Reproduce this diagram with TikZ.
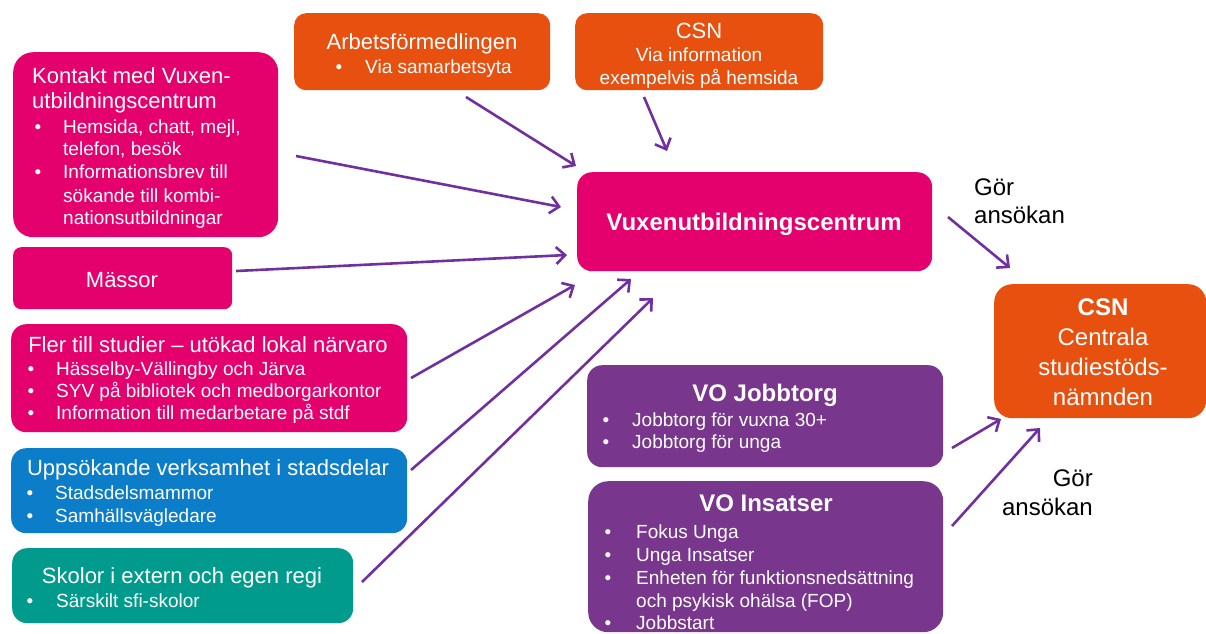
\documentclass[tikz,border=0pt]{standalone}
\usepackage{fontspec}
\setmainfont{Liberation Sans}
\usetikzlibrary{arrows.meta}
\definecolor{mag}{RGB}{228,0,109}
\definecolor{ora}{RGB}{232,80,15}
\definecolor{pur}{RGB}{121,54,141}
\definecolor{blu}{RGB}{12,125,200}
\definecolor{tea}{RGB}{0,155,141}
\definecolor{arr}{RGB}{112,48,160}
\tikzset{
 box/.style={rounded corners=15pt, inner sep=0pt, anchor=north west, draw=none},
 ttl/.style={font=\fontsize{22}{26}\selectfont, text=white, inner sep=0pt, anchor=base},
 itm/.style={font=\fontsize{19}{23}\selectfont, text=white, inner sep=0pt, anchor=base west},
 ctr/.style={font=\fontsize{19}{23}\selectfont, text=white, inner sep=0pt, anchor=base},
 bul/.style={font=\fontsize{19}{23}\selectfont, text=white, inner sep=0pt, anchor=base},
 big/.style={font=\fontsize{24}{28}\selectfont\bfseries, text=white, inner sep=0pt, anchor=base},
 csnt/.style={font=\fontsize{24}{28}\selectfont, text=white, inner sep=0pt, anchor=base},
 lbl/.style={font=\fontsize{24}{28}\selectfont, text=black, inner sep=0pt},
 conn/.style={draw=arr, line width=2.6pt, -{Straight Barb[length=9pt,width=17pt,line width=2.6pt]}},
}
\begin{document}
\begin{tikzpicture}[x=1pt,y=-1pt]
\useasboundingbox (0,0) rectangle (1206,633);
\fill[white] (0,0) rectangle (1206,633);
\begin{scope}
\clip (0,0) rectangle (1206,633);
% boxes
\node[box,fill=ora,rounded corners=12pt,minimum width=256pt,minimum height=77pt] (arb) at (294,13) {};
\node[box,fill=ora,rounded corners=12pt,minimum width=248pt,minimum height=77pt] (csna) at (575,13) {};
\node[box,fill=mag,rounded corners=20pt,minimum width=265pt,minimum height=185pt] (kon) at (13,52) {};
\node[box,fill=mag,rounded corners=8pt,minimum width=219pt,minimum height=62pt] (mas) at (13,247) {};
\node[box,fill=mag,minimum width=396pt,minimum height=108pt] (fler) at (11,324) {};
\node[box,fill=blu,minimum width=396pt,minimum height=85pt] (upp) at (11,448) {};
\node[box,fill=tea,minimum width=341pt,minimum height=75pt] (sko) at (12,548) {};
\node[box,fill=mag,minimum width=355pt,minimum height=99pt] (vux) at (577,172) {};
\node[box,fill=ora,rounded corners=18pt,minimum width=212pt,minimum height=134pt] (csnb) at (994,284) {};
\node[box,fill=pur,minimum width=356pt,minimum height=102pt] (job) at (587,365) {};
\node[box,fill=pur,rounded corners=20pt,minimum width=355pt,minimum height=151pt] (ins) at (588,481) {};
\end{scope}
% Arbetsförmedlingen
\node[ttl] (arbt) at (422,49) {Arbetsförmedlingen};
\node[bul] (arbb) at (339,73) {•};
\node[itm] (arbi) at (365,73) {Via samarbetsyta};
% CSN top
\node[ttl] (csnat) at (699,38) {CSN};
\node[ctr] (csna1) at (699,61) {Via information};
\node[ctr] (csna2) at (699,84) {exempelvis på hemsida};
% Kontakt
\node[ttl,anchor=base west] (kon1) at (32,83) {Kontakt med Vuxen-};
\node[ttl,anchor=base west] (kon2) at (32,108) {utbildningscentrum};
\node[bul] (konb1) at (38,133) {•};
\node[itm] (kon3) at (63,133) {Hemsida, chatt, mejl,};
\node[itm] (kon4) at (63,155) {telefon, besök};
\node[bul] (konb2) at (38,178) {•};
\node[itm] (kon5) at (63,178) {Informationsbrev till};
\node[itm] (kon6) at (63,202) {sökande till kombi-};
\node[itm] (kon7) at (63,224) {nationsutbildningar};
% Mässor
\node[ttl] (mast) at (122,287) {Mässor};
% Fler
\node[ttl] (flert) at (208,352) {Fler till studier – utökad lokal närvaro};
\node[bul] (flerb1) at (31,375) {•};
\node[itm] (fler1) at (56,375) {Hässelby-Vällingby och Järva};
\node[bul] (flerb2) at (31,397) {•};
\node[itm] (fler2) at (56,397) {SYV på bibliotek och medborgarkontor};
\node[bul] (flerb3) at (31,419) {•};
\node[itm] (fler3) at (56,419) {Information till medarbetare på stdf};
% Uppsökande
\node[ttl] (uppt) at (208,475) {Uppsökande verksamhet i stadsdelar};
\node[bul] (uppb1) at (30,499) {•};
\node[itm] (upp1) at (55,499) {Stadsdelsmammor};
\node[bul] (uppb2) at (30,522) {•};
\node[itm] (upp2) at (55,522) {Samhällsvägledare};
% Skolor
\node[ttl] (skot) at (182,583) {Skolor i extern och egen regi};
\node[bul] (skob1) at (30,607) {•};
\node[itm] (sko1) at (56,607) {Särskilt sfi-skolor};
% Vux
\node[big] (vuxt) at (754,230) {Vuxenutbildningscentrum};
% CSN right
\node[big] (csnbt) at (1103,315) {CSN};
\node[csnt] (csnb1) at (1103,345) {Centrala};
\node[csnt] (csnb2) at (1103,375) {studiestöds-};
\node[csnt] (csnb3) at (1103,405) {nämnden};
% Jobbtorg
\node[big] (jobt) at (765,401) {VO Jobbtorg};
\node[bul] (jobb1) at (606,426) {•};
\node[itm] (job1) at (632,426) {Jobbtorg för vuxna 30+};
\node[bul] (jobb2) at (606,448) {•};
\node[itm] (job2) at (632,448) {Jobbtorg för unga};
% Insatser
\node[big] (inst) at (766,511) {VO Insatser};
\node[bul] (insb1) at (608,538) {•};
\node[itm] (ins1) at (636,538) {Fokus Unga};
\node[bul] (insb2) at (608,561) {•};
\node[itm] (ins2) at (636,561) {Unga Insatser};
\node[bul] (insb3) at (608,584) {•};
\node[itm] (ins3) at (636,584) {Enheten för funktionsnedsättning};
\node[itm] (ins4) at (636,607) {och psykisk ohälsa (FOP)};
\node[bul] (insb4) at (608,629) {•};
\node[itm] (ins5) at (636,629) {Jobbstart};
% labels
\node[lbl,anchor=base west] (g1a) at (974,195) {Gör};
\node[lbl,anchor=base west] (g1b) at (974,223) {ansökan};
\node[lbl,anchor=base east] (g2a) at (1093,486) {Gör};
\node[lbl,anchor=base east] (g2b) at (1093,515) {ansökan};
% connector end points
\coordinate (arbS) at (466,97);   \coordinate (arbE) at (576,166);
\coordinate (csnaS) at (644,97);  \coordinate (csnaE) at (667,151);
\coordinate (konS) at (296,156);  \coordinate (konE) at (561,207);
\coordinate (masS) at (236,271);  \coordinate (masE) at (567,255);
\coordinate (flerS) at (411,378); \coordinate (flerE) at (575,285);
\coordinate (uppS) at (411,470);  \coordinate (uppE) at (631,279);
\coordinate (skoS) at (362,582);  \coordinate (skoE) at (653,298);
\coordinate (vuxS) at (948,217);  \coordinate (vuxE) at (1010,268);
\coordinate (jobS) at (952,448);  \coordinate (jobE) at (1001,419);
\coordinate (insS) at (952,526);  \coordinate (insE) at (1040,428);
\draw[conn] (arbS) -- (arbE);
\draw[conn] (csnaS) -- (csnaE);
\draw[conn] (konS) -- (konE);
\draw[conn] (masS) -- (masE);
\draw[conn] (flerS) -- (flerE);
\draw[conn] (uppS) -- (uppE);
\draw[conn] (skoS) -- (skoE);
\draw[conn] (vuxS) -- (vuxE);
\draw[conn] (jobS) -- (jobE);
\draw[conn] (insS) -- (insE);
\end{tikzpicture}
\end{document}
